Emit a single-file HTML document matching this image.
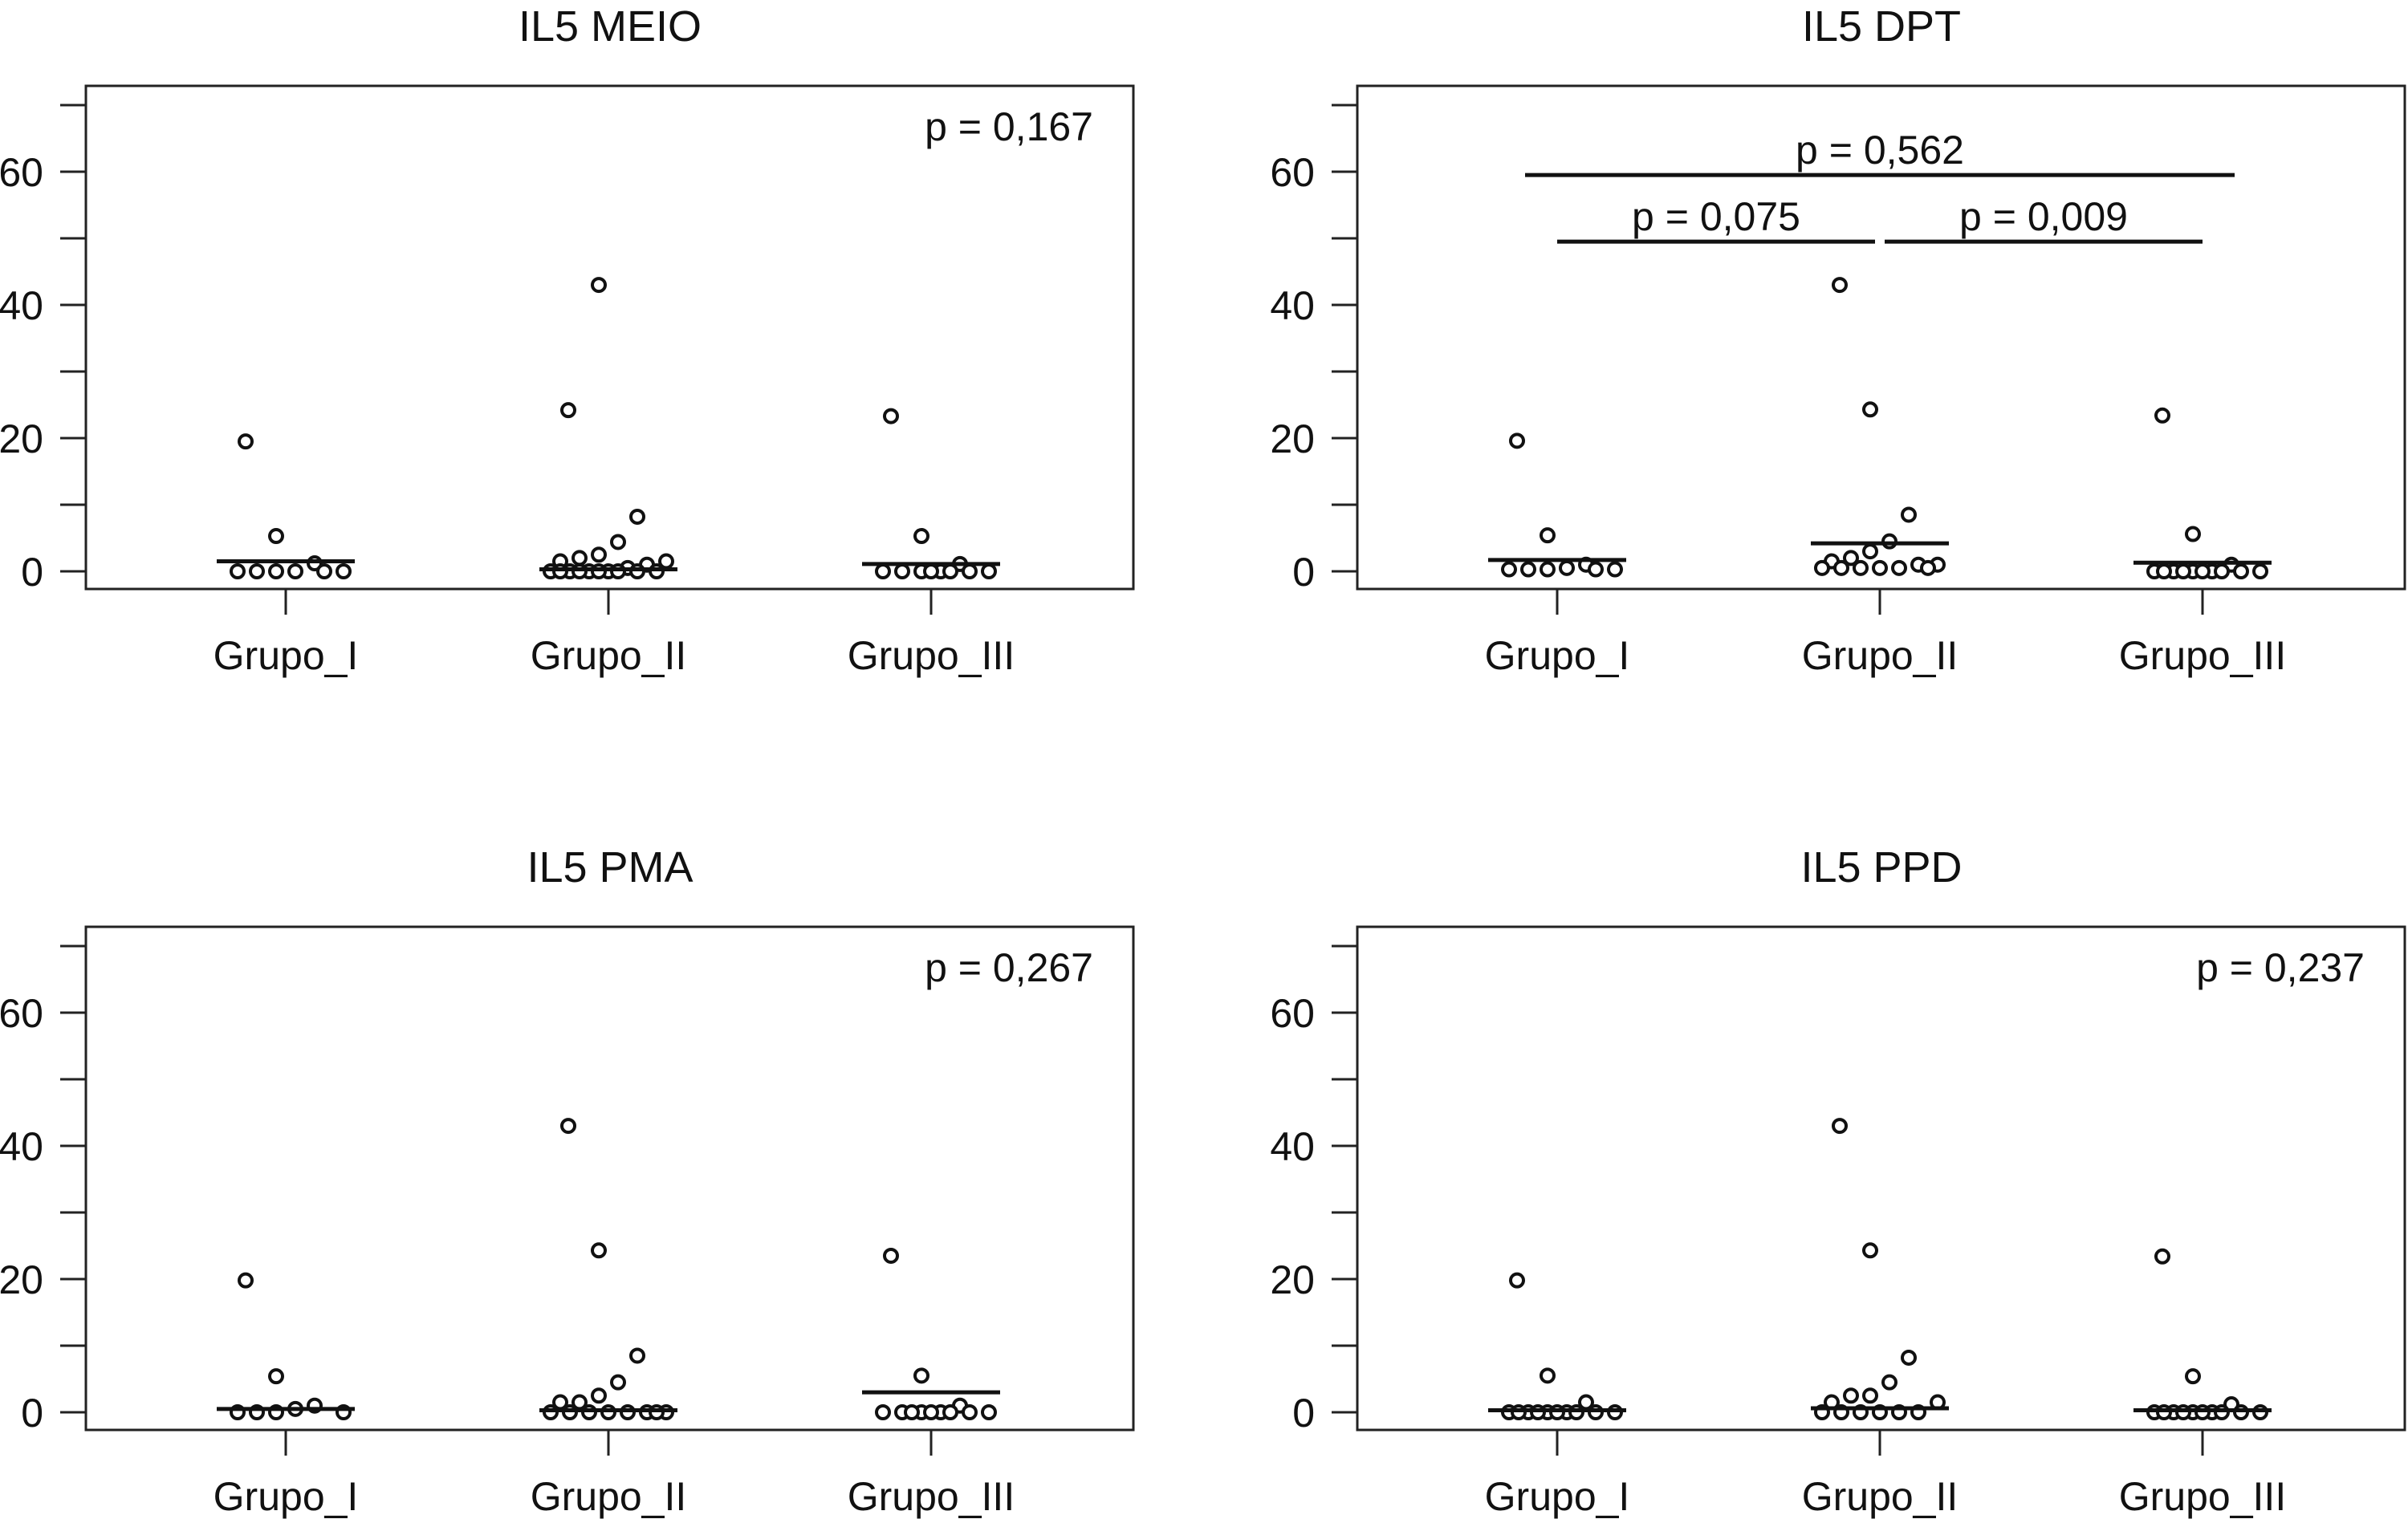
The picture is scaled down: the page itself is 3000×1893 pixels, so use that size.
<!DOCTYPE html>
<html><head><meta charset="utf-8"><style>
html,body{margin:0;padding:0;background:#fff}
svg{display:block}
text{font-family:"Liberation Sans",Arial,sans-serif;fill:#111}
</style></head><body>
<svg id="chart" width="3000" height="1893" viewBox="0 0 3000 1893" xmlns="http://www.w3.org/2000/svg"></svg>
<script>
const groups = ["Grupo_I","Grupo_II","Grupo_III"];
const yTickLabels = [0,20,40,60];
const yMinorTicks = [0,10,20,30,40,50,60,70];
const titles = ["IL5 MEIO","IL5 DPT","IL5 PMA","IL5 PPD"];
const pTexts = ["p = 0,167", null, "p = 0,267", "p = 0,237"];
const meioValues = [[19.5,5.3,1.2,0,0,0,0,0,0],[24.2,43,8.2,4.4,2.5,2,1.5,1.5,1,0.5,0,0,0,0,0,0,0,0,0,0],[23.3,5.3,1.1,0,0,0,0,0,0,0,0]];
const dptValues = [[19.6,5.4,1,0.5,0.3,0.3,0.3,0.3,0.3],[43,24.3,8.5,4.5,3,2,1.5,1,1,0.5,0.5,0.5,0.5,0.5,0.5],[23.4,5.6,1,0,0,0,0,0,0,0,0,0,0]];
const pmaValues = [[19.8,5.4,1,0.5,0,0,0,0],[43,24.3,8.5,4.5,2.5,1.5,1.5,0,0,0,0,0,0,0,0],[23.5,5.5,1,0,0,0,0,0,0,0,0,0]];
const ppdValues = [[19.8,5.5,1.5,0,0,0,0,0,0,0,0,0,0],[43,24.3,8.2,4.5,2.5,2.5,1.5,1.5,0,0,0,0,0,0],[23.4,5.4,1.2,0,0,0,0,0,0,0,0,0,0]];
const medians = [[1.5,0.3,1.1],[1.7,4.2,1.3],[0.5,0.3,3.0],[0.3,0.6,0.3]];
const dptComparisons = [{from:0,to:2,y:59.5,label:"p = 0,562"},{from:0,to:1,y:49.5,label:"p = 0,075"},{from:1,to:2,y:49.5,label:"p = 0,009"}];
const panelData = [meioValues,dptValues,pmaValues,ppdValues];

const NS="http://www.w3.org/2000/svg";
const svg=document.getElementById('chart');
function mk(tag,attrs,parent){const e=document.createElementNS(NS,tag);for(const k in attrs)e.setAttribute(k,attrs[k]);parent.appendChild(e);return e;}
const panels=[{x0:107,y0:107},{x0:1691,y0:107},{x0:107,y0:1155},{x0:1691,y0:1155}];
const W=1305,H=627;
const FS=50;
panels.forEach((p,pi)=>{
  const g=mk('g',{},svg);
  
  
  const yZero=p.y0+605;
  const ys=v=>yZero-v*8.3;
  const xs=i=>p.x0+249+i*402;
  const t=mk('text',{x:p.x0+653,y:p.y0-56,'text-anchor':'middle','font-size':54},g);
  t.textContent=titles[pi];
  
  
  const box=mk('rect',{x:p.x0,y:p.y0,width:W,height:H,fill:'none',stroke:'#222','stroke-width':3},g);
  
  
  yMinorTicks.forEach(v=>{
    const l=mk('line',{x1:p.x0-32,x2:p.x0,y1:ys(v),y2:ys(v),stroke:'#222','stroke-width':3},g);
    
    
  });
  yTickLabels.forEach(v=>{
    const tl=mk('text',{x:p.x0-53,y:ys(v)+18,'text-anchor':'end','font-size':FS},g);
    tl.textContent=v;
    
    
  });
  groups.forEach((gn,i)=>{
    const l=mk('line',{x1:xs(i),x2:xs(i),y1:p.y0+H,y2:p.y0+H+32,stroke:'#222','stroke-width':3},g);
    
    
    const tl=mk('text',{x:xs(i),y:p.y0+H+100,'text-anchor':'middle','font-size':FS},g);
    tl.textContent=gn;
    
    
    const vals=panelData[pi][i];
    vals.forEach((v,k)=>{
      const off=k===0?-50:k===1?-12:((k*37)%13-6)*12;
      const c=mk('circle',{cx:xs(i)+off,cy:ys(v),r:8,fill:'#fff',stroke:'#111','stroke-width':4},g);
      
      
    });
    const m=mk('line',{x1:xs(i)-86,x2:xs(i)+86,y1:ys(medians[pi][i]),y2:ys(medians[pi][i]),stroke:'#111','stroke-width':5},g);
    
    
  });
  if(pTexts[pi]){
    const pt=mk('text',{x:p.x0+1255,y:p.y0+68,'text-anchor':'end','font-size':FS},g);
    pt.textContent=pTexts[pi];
    
    
  } else {
    dptComparisons.forEach(c=>{
      const wide=c.from===0&&c.to===2;
      const a=wide?xs(c.from)-40:xs(c.from)+(c.from===1?6:0);
      const b=wide?xs(c.to)+40:xs(c.to)-(c.to===1?6:0);
      const l=mk('line',{x1:a,x2:b,y1:ys(c.y),y2:ys(c.y),stroke:'#111','stroke-width':5},g);
      
      
      const tl=mk('text',{x:(a+b)/2,y:ys(c.y)-14,'text-anchor':'middle','font-size':FS},g);
      tl.textContent=c.label;
      
      
    });
  }
});
</script>
</body></html>
